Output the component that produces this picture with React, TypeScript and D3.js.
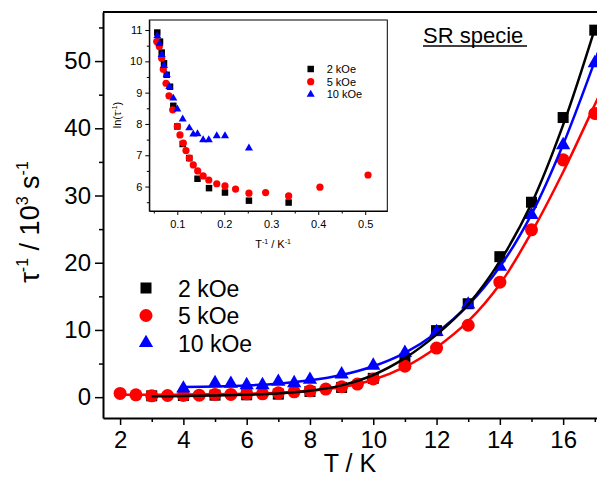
import { useEffect, useRef } from "react";
import * as d3 from "d3";

const W = 597;
const H = 479;
const FONT = "Arial, 'Liberation Sans', sans-serif";

// main plot: relaxation rate (10^3 s^-1) vs T (K)
const temp2k = [3, 4, 5, 6, 7, 8, 9, 10, 11, 12, 13, 14, 15, 16, 17];
const rate2k = [0.2, 0.25, 0.3, 0.35, 0.45, 0.85, 1.45, 2.8, 5.7, 9.9, 13.9, 20.9, 29.0, 41.6, 54.6];
const temp5k = [2, 2.5, 3, 3.5, 4, 4.5, 5, 5.5, 6, 6.5, 7, 7.5, 8, 8.5, 9, 9.5, 10, 11, 12, 13, 14, 15, 16, 17];
const rate5k = [0.55, 0.35, 0.2, 0.25, 0.25, 0.3, 0.4, 0.4, 0.5, 0.5, 0.65, 0.8, 0.95, 1.2, 1.55, 1.95, 2.7, 4.6, 7.3, 10.7, 17.1, 24.9, 35.3, 42.2];
const temp10k = [4, 5, 5.5, 6, 6.5, 7, 7.5, 8, 9, 10, 11, 12, 13, 14, 15, 16, 17];
const rate10k = [1.3, 2.1, 2.0, 1.8, 1.8, 2.3, 2.1, 2.6, 3.4, 4.7, 6.6, 9.7, 13.8, 19.4, 27.1, 37.5, 49.7];

// fitted curves
const fitT2k = [3, 4, 5, 6, 7, 8, 9, 10, 11, 12, 13, 14, 15, 16, 17];
const fitR2k = [0.12, 0.16, 0.24, 0.36, 0.56, 0.95, 1.75, 3.3, 5.8, 9.3, 13.8, 20.2, 28.8, 40.5, 54.8];
const fitT5k = [2, 3, 4, 5, 6, 7, 8, 9, 10, 11, 12, 13, 14, 15, 16, 17, 17.1];
const fitR5k = [0.35, 0.35, 0.38, 0.42, 0.5, 0.65, 0.95, 1.5, 2.6, 4.5, 7.4, 11.3, 16.8, 24.5, 33.5, 43.5, 44.5];
const fitT10k = [4, 5, 6, 7, 8, 9, 10, 11, 12, 13, 14, 15, 16, 17, 17.1];
const fitR10k = [1.5, 1.6, 1.75, 2.0, 2.5, 3.3, 4.6, 6.6, 9.6, 13.7, 19.4, 27.2, 37.6, 50.0, 51.3];

// inset: ln(tau^-1) vs 1/T
const invT2k = [0.0574, 0.0632, 0.0668, 0.0717, 0.0774, 0.0845, 0.0915, 0.1, 0.1115, 0.1255, 0.143, 0.1675, 0.2015, 0.2525, 0.337];
const ln2k = [10.92, 10.63, 10.28, 9.94, 9.57, 9.19, 8.58, 7.92, 7.36, 6.91, 6.25, 5.95, 5.81, 5.55, 5.49];
const invT5k = [0.0562, 0.0617, 0.0668, 0.0702, 0.076, 0.0823, 0.0902, 0.1, 0.1057, 0.1128, 0.1185, 0.1255, 0.134, 0.1434, 0.155, 0.167, 0.184, 0.2015, 0.224, 0.2525, 0.288, 0.337, 0.4036, 0.506];
const ln5k = [10.63, 10.47, 10.1, 9.75, 9.3, 8.9, 8.45, 7.92, 7.65, 7.39, 7.15, 6.91, 6.69, 6.5, 6.34, 6.21, 6.09, 6.02, 5.92, 5.79, 5.81, 5.7, 5.98, 6.37];
const invT10k = [0.0575, 0.0619, 0.0668, 0.0717, 0.0774, 0.083, 0.0915, 0.1, 0.1115, 0.1255, 0.134, 0.143, 0.155, 0.167, 0.184, 0.2015, 0.2525];
const ln10k = [10.81, 10.56, 10.21, 9.86, 9.57, 9.19, 8.82, 8.47, 8.15, 7.87, 7.67, 7.68, 7.49, 7.49, 7.62, 7.62, 7.23];

const fields = ["2 kOe", "5 kOe", "10 kOe"];
const colors = ["#000000", "#ff0000", "#0000ff"];
const shapes = [d3.symbolSquare, d3.symbolCircle, d3.symbolTriangle];

const xTicks = [2, 4, 6, 8, 10, 12, 14, 16];
const xMinor = [3, 5, 7, 9, 11, 13, 15, 17];
const yTicks = [0, 10, 20, 30, 40, 50];
const yMinor = [5, 15, 25, 35, 45, 55];
const insetXTicks = [0.1, 0.2, 0.3, 0.4, 0.5];
const insetXMinor = [0.05, 0.15, 0.25, 0.35, 0.45];
const insetYTicks = [6, 7, 8, 9, 10, 11];
const insetYMinor = [5.5, 6.5, 7.5, 8.5, 9.5, 10.5];

export default function App() {
  const ref = useRef<SVGSVGElement>(null);

  useEffect(() => {
    const svg = d3.select(ref.current);
    svg.selectAll("*").remove();
    drawChart(svg);
  }, []);

  return (
    <div style={{ position: "absolute", left: 0, top: 0 }}>
      <svg ref={ref} width={W} height={H} style={{ display: "block", background: "#fff" }} />
    </div>
  );
}

function drawChart(svg: any) {
  const left = 103, right = 597, top = 12, bottom = 418;
  const x = d3.scaleLinear().domain([1.46, 17.07]).range([left, right]);
  const y = d3.scaleLinear().domain([-3.1, 57.3]).range([bottom, top]);

  svg.append("defs").append("clipPath").attr("id", "plotClip")
    .append("rect").attr("x", left).attr("y", top).attr("width", right - left).attr("height", bottom - top);

  // axes
  const xAxis = svg.append("g").attr("transform", `translate(0,${bottom})`)
    .call(d3.axisBottom(x).tickValues(xTicks).tickSize(7).tickSizeOuter(0).tickPadding(6));
  svg.append("g").attr("transform", `translate(0,${bottom})`)
    .call(d3.axisBottom(x).tickValues(xMinor).tickSize(4).tickFormat(() => ""))
    .call((g: any) => g.select(".domain").remove());
  const yAxis = svg.append("g").attr("transform", `translate(${left},0)`)
    .call(d3.axisLeft(y).tickValues(yTicks).tickSize(8).tickSizeOuter(0).tickPadding(4));
  svg.append("g").attr("transform", `translate(${left},0)`)
    .call(d3.axisLeft(y).tickValues(yMinor).tickSize(4).tickFormat(() => ""))
    .call((g: any) => g.select(".domain").remove());
  svg.selectAll(".domain").attr("stroke-width", 2);
  svg.selectAll(".tick line").attr("stroke-width", 1.5);
  xAxis.selectAll("text").style("font-size", "24px").style("font-family", FONT).attr("fill", "#000");
  yAxis.selectAll("text").style("font-size", "24px").style("font-family", FONT).attr("fill", "#000");

  svg.append("line").attr("x1", left).attr("x2", right).attr("y1", top).attr("y2", top)
    .attr("stroke", "#000").attr("stroke-width", 2);

  svg.append("text").attr("x", (left + right) / 2).attr("y", 472).attr("text-anchor", "middle")
    .style("font-family", FONT).style("font-size", "25px").text("T / K");

  const yl = svg.append("text").attr("transform", "translate(39,222) rotate(-90)")
    .attr("text-anchor", "middle").style("font-family", FONT).style("font-size", "27px");
  yl.append("tspan").text("τ");
  yl.append("tspan").attr("dy", -11).style("font-size", "16px").text("-1");
  yl.append("tspan").attr("dy", 11).text(" / 10");
  yl.append("tspan").attr("dy", -11).style("font-size", "16px").text("3");
  yl.append("tspan").attr("dy", 11).text(" s");
  yl.append("tspan").attr("dy", -11).style("font-size", "16px").text("-1");

  // data
  const mainSeries = [
    { t: temp2k, r: rate2k, ft: fitT2k, fr: fitR2k },
    { t: temp5k, r: rate5k, ft: fitT5k, fr: fitR5k },
    { t: temp10k, r: rate10k, ft: fitT10k, fr: fitR10k },
  ];
  const mainSizes = [121, 133, 88];
  const plot = svg.append("g").attr("clip-path", "url(#plotClip)");
  mainSeries.forEach((s, i) => {
    plot.append("g").selectAll("path").data(s.t).join("path")
      .attr("transform", (d: number, j: number) => `translate(${x(d)},${y(s.r[j])})`)
      .attr("d", d3.symbol().type(shapes[i]).size(mainSizes[i])())
      .attr("fill", colors[i]);
  });
  [1, 2, 0].forEach((i) => {
    const s = mainSeries[i];
    const line = d3.line<number>().x((d) => x(d)).y((d, j) => y(s.fr[j])).curve(d3.curveCatmullRom);
    plot.append("path").datum(s.ft).attr("d", line).attr("fill", "none")
      .attr("stroke", colors[i]).attr("stroke-width", 2.5);
  });

  // legend
  fields.forEach((f, i) => {
    const ly = 288 + i * 27.5;
    svg.append("path").attr("transform", `translate(146,${ly})`)
      .attr("d", d3.symbol().type(shapes[i]).size(mainSizes[i])()).attr("fill", colors[i]);
    svg.append("text").attr("x", 178).attr("y", ly + 8.5).style("font-family", FONT)
      .style("font-size", "23px").text(f);
  });

  // title
  svg.append("text").attr("x", 423).attr("y", 43).style("font-family", FONT)
    .style("font-size", "22px").text("SR specie");
  svg.append("line").attr("x1", 423).attr("x2", 527).attr("y1", 46).attr("y2", 46)
    .attr("stroke", "#000").attr("stroke-width", 1.5);

  drawInset(svg);
}

function drawInset(svg: any) {
  const left = 149.3, right = 387.3, top = 20, bottom = 211;
  const ix = d3.scaleLinear().domain([0.0404, 0.547]).range([left, right]);
  const iy = d3.scaleLinear().domain([5.22, 11.32]).range([bottom, top]);
  const g = svg.append("g");
  g.append("rect").attr("x", left).attr("y", top).attr("width", right - left).attr("height", bottom - top)
    .attr("fill", "#fff").attr("stroke", "#000").attr("stroke-width", 1);

  const xa = g.append("g").attr("transform", `translate(0,${bottom})`)
    .call(d3.axisBottom(ix).tickValues(insetXTicks).tickSize(4).tickSizeOuter(0).tickPadding(5).tickFormat(d3.format(".1f")));
  g.append("g").attr("transform", `translate(0,${bottom})`)
    .call(d3.axisBottom(ix).tickValues(insetXMinor).tickSize(2.5).tickFormat(() => ""))
    .call((a: any) => a.select(".domain").remove());
  const ya = g.append("g").attr("transform", `translate(${left},0)`)
    .call(d3.axisLeft(iy).tickValues(insetYTicks).tickSize(4).tickSizeOuter(0).tickPadding(3).tickFormat(d3.format("d")));
  g.append("g").attr("transform", `translate(${left},0)`)
    .call(d3.axisLeft(iy).tickValues(insetYMinor).tickSize(2.5).tickFormat(() => ""))
    .call((a: any) => a.select(".domain").remove());
  g.selectAll(".domain").attr("stroke-width", 1);
  xa.selectAll("text").style("font-size", "11px").style("font-family", FONT).attr("fill", "#000");
  ya.selectAll("text").style("font-size", "11px").style("font-family", FONT).attr("fill", "#000");

  const xt = g.append("text").attr("x", 273).attr("y", 248).attr("text-anchor", "middle")
    .style("font-family", FONT).style("font-size", "11px");
  xt.append("tspan").text("T");
  xt.append("tspan").attr("dy", -4).style("font-size", "7px").text("-1");
  xt.append("tspan").attr("dy", 4).text(" / K");
  xt.append("tspan").attr("dy", -4).style("font-size", "7px").text("-1");

  const yt = g.append("text").attr("transform", "translate(121,115) rotate(-90)").attr("text-anchor", "middle")
    .style("font-family", FONT).style("font-size", "11px");
  yt.append("tspan").text("ln(τ");
  yt.append("tspan").attr("dy", -4).style("font-size", "7px").text("-1");
  yt.append("tspan").attr("dy", 4).text(")");

  const series = [
    { a: invT2k, b: ln2k },
    { a: invT5k, b: ln5k },
    { a: invT10k, b: ln10k },
  ];
  const sizes = [42, 41, 28];
  series.forEach((s, i) => {
    g.append("g").selectAll("path").data(s.a).join("path")
      .attr("transform", (d: number, j: number) => `translate(${ix(d)},${iy(s.b[j])})`)
      .attr("d", d3.symbol().type(shapes[i]).size(sizes[i])())
      .attr("fill", colors[i]);
  });

  fields.forEach((f, i) => {
    const ly = 69 + i * 12.7;
    g.append("path").attr("transform", `translate(310.7,${ly})`)
      .attr("d", d3.symbol().type(shapes[i]).size(sizes[i])()).attr("fill", colors[i]);
    g.append("text").attr("x", 326.7).attr("y", ly + 4).style("font-family", FONT)
      .style("font-size", "11px").text(f);
  });
}
